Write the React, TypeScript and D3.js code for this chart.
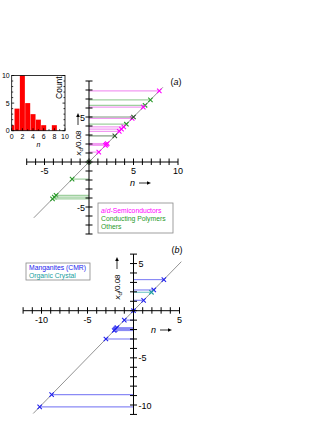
import React from 'react';
import * as d3 from 'd3';

// histogram inset: counts per n
const histN = [0, 1, 2, 3, 4, 5, 6, 7, 8];
const histCount = [1, 4, 10, 5, 3, 2, 1, 0, 1];

// panel (a) values (point sits at (v, v), line from y axis)
const semiVals = [7.9, 6.1, 4.85, 3.9, 3.65, 3.4, 2.05, 1.95, 1.85, 1.1];
const polyVals = [6.9, 6.3, 4.2, -1.9, -3.7, -3.9, -4.1];
const otherVals = [5.0, 2.9, 0];

// panel (b)
const mangVals = [3.3, 2.2, 1.1, 0, -1.0, -1.8, -1.9, -2.0, -2.1, -3.0, -8.9, -10.2];
const organicVals = [1.95];

const legendA = ['a/d-Semiconductors', 'Conducting Polymers', 'Others'];
const legendB = ['Manganites (CMR)', 'Organic Crystal'];

const FONT = '"Liberation Sans", Arial, sans-serif';

function Cross({ x, y, color }: { x: number; y: number; color: string }) {
  const s = 2.2;
  return (
    <path d={`M${x - s},${y - s}L${x + s},${y + s}M${x - s},${y + s}L${x + s},${y - s}`} stroke={color} strokeWidth={1.1} fill="none" />
  );
}

function Axes({ x, y, xr, yr, xLabels, yLabels, yLabelRight }: any) {
  const x0 = x(0), y0 = y(0);
  const xt = d3.range(xr[0], xr[1] + 1);
  const yt = d3.range(yr[0], yr[1] + 1);
  return (
    <g stroke="#000" strokeWidth={1}>
      <line x1={x(xr[0])} x2={x(xr[1])} y1={y0} y2={y0} />
      <line x1={x0} x2={x0} y1={y(yr[0])} y2={y(yr[1])} />
      {xt.map(t => <line key={'x' + t} x1={x(t)} x2={x(t)} y1={y0 - 3.5} y2={y0 + 3} />)}
      {yt.map(t => <line key={'y' + t} x1={x0 - 3.5} x2={x0 + 3.5} y1={y(t)} y2={y(t)} />)}
      <g stroke="none" fill="#000" fontSize={9} fontFamily={FONT}>
        {xLabels.map((t: number) => <text key={'xl' + t} x={x(t)} y={y0 + 12} textAnchor="middle">{t}</text>)}
        {yLabels.map((t: number) => (
          <text key={'yl' + t} x={yLabelRight ? x0 + 5 : x0 - 4} y={y(t) + 3.5} textAnchor={yLabelRight ? 'start' : 'end'}>{t}</text>
        ))}
      </g>
    </g>
  );
}

function YLabel({ cx, cy }: { cx: number; cy: number }) {
  return (
    <g transform={`translate(${cx},${cy}) rotate(-90)`} fontFamily={FONT} fontSize={8}>
      <text x={0} y={3} textAnchor="middle">
        <tspan fontStyle="italic">x</tspan>
        <tspan fontSize={6} dy={2}>d</tspan>
        <tspan dy={-2}>/0.08</tspan>
      </text>
      <line x1={18} x2={27} y1={0} y2={0} stroke="#000" strokeWidth={0.8} />
      <path d="M30,0L26,-1.8L26,1.8Z" fill="#000" />
    </g>
  );
}

function NLabel({ x, y }: { x: number; y: number }) {
  return (
    <g fontFamily={FONT} fontSize={9}>
      <text x={x} y={y} fontStyle="italic">n</text>
      <line x1={x + 9} x2={x + 18} y1={y - 3} y2={y - 3} stroke="#000" strokeWidth={0.8} />
      <path d={`M${x + 21},${y - 3}L${x + 17},${y - 4.8}L${x + 17},${y - 1.2}Z`} fill="#000" />
    </g>
  );
}

export default function App() {
  // panel (a)
  const xA = d3.scaleLinear().domain([0, 10]).range([89, 178]);
  const yA = d3.scaleLinear().domain([0, 5]).range([162, 117]);
  // panel (b)
  const xB = d3.scaleLinear().domain([0, 5]).range([133.5, 179.5]);
  const yB = d3.scaleLinear().domain([0, -10]).range([310.7, 405]);
  // histogram inset
  const xH = d3.scaleLinear().domain([0, 10]).range([11.7, 65]);
  const yH = d3.scaleLinear().domain([0, 10]).range([130.7, 75.5]);

  const semiC = '#ff00ff', semiL = '#f29af2';
  const polyC = '#2a9a2a', polyL = '#9fd09f';
  const othC = '#2f5a2f', othL = '#7f9a7f';
  const mangC = '#2222ee', mangL = '#8a8af5';
  const orgC = '#20a0a0', orgL = '#80cccc';

  const hLines = (vals: number[], x: any, y: any, line: string, mark: string, k: string) =>
    vals.map((v, i) => (
      <g key={k + i}>
        <line x1={x(0)} x2={x(v)} y1={y(v)} y2={y(v)} stroke={line} strokeWidth={1.2} />
        <Cross x={x(v)} y={y(v)} color={mark} />
      </g>
    ));

  return (
    <svg width={327} height={423} style={{ position: 'absolute', left: 0, top: 0, background: '#fff' }}>
      {/* histogram inset */}
      <g>
        {histN.map((n, i) => histCount[i] > 0 && (
          <rect key={n} x={Math.max(xH(n - 0.47), xH(0))} width={xH(n + 0.47) - Math.max(xH(n - 0.47), xH(0))}
            y={yH(histCount[i])} height={yH(0) - yH(histCount[i])} fill="#ff0000" />
        ))}
        <rect x={xH(0)} y={yH(10)} width={xH(10) - xH(0)} height={yH(0) - yH(10)} fill="none" stroke="#000" strokeWidth={0.8} />
        {d3.range(0, 11, 1).map(t => (
          <g key={'ht' + t} stroke="#000" strokeWidth={0.8}>
            <line x1={xH(t)} x2={xH(t)} y1={yH(0)} y2={yH(0) - (t % 2 === 0 ? 2.5 : 1.5)} />
            <line x1={xH(0)} x2={xH(0) + (t % 5 === 0 ? 2.5 : 1.5)} y1={yH(t)} y2={yH(t)} />
            <line x1={xH(10)} x2={xH(10) - (t % 5 === 0 ? 2.5 : 1.5)} y1={yH(t)} y2={yH(t)} />
          </g>
        ))}
        <g fontFamily={FONT} fontSize={7}>
          {[0, 2, 4, 6, 8, 10].map(t => <text key={'hx' + t} x={xH(t)} y={yH(0) + 8} textAnchor="middle">{t}</text>)}
          {[0, 5, 10].map(t => <text key={'hy' + t} x={xH(0) - 2} y={yH(t) + 2.5} textAnchor="end">{t}</text>)}
          <text x={xH(5)} y={yH(0) + 16} textAnchor="middle" fontStyle="italic">n</text>
        </g>
        <text transform={`translate(${xH(9.4)},${yH(7.8)}) rotate(-90)`} fontFamily={FONT} fontSize={8.5} textAnchor="middle">Count</text>
      </g>

      {/* panel (a) */}
      <line x1={xA(-6.2)} y1={yA(-6.2)} x2={xA(8.3)} y2={yA(8.3)} stroke="#777" strokeWidth={0.8} />
      {hLines(polyVals, xA, yA, polyL, polyC, 'p')}
      {hLines(semiVals, xA, yA, semiL, semiC, 's')}
      {hLines(otherVals, xA, yA, othL, othC, 'o')}
      <Axes x={xA} y={yA} xr={[-7, 10]} yr={[-8, 9]} xLabels={[-5, 5, 10]} yLabels={[5, -5]} />
      <YLabel cx={78} cy={143} />
      <NLabel x={130} y={186} />
      <text x={176} y={85} fontFamily={FONT} fontSize={9} textAnchor="middle">(<tspan fontStyle="italic">a</tspan>)</text>
      <rect x={98} y={203} width={75} height={30} fill="#fff" stroke="#888" strokeWidth={0.8} />
      <g fontFamily={FONT} fontSize={6.8}>
        <text x={101} y={213} fill={semiC}><tspan fontStyle="italic">a</tspan>/<tspan fontStyle="italic">d</tspan>{legendA[0].slice(3)}</text>
        <text x={101} y={221} fill={polyC}>{legendA[1]}</text>
        <text x={101} y={229} fill={polyC}>{legendA[2]}</text>
      </g>

      {/* panel (b) */}
      <line x1={xB(-10.9)} y1={yB(-10.9)} x2={xB(5.2)} y2={yB(5.2)} stroke="#777" strokeWidth={0.8} />
      {hLines(mangVals, xB, yB, mangL, mangC, 'm')}
      {hLines(organicVals, xB, yB, orgL, orgC, 'c')}
      <Axes x={xB} y={yB} xr={[-12, 5]} yr={[-11, 6]} xLabels={[-10, -5, 5]} yLabels={[5, -5, -10]} yLabelRight />
      <YLabel cx={117} cy={287} />
      <NLabel x={151} y={333} />
      <text x={177} y={253} fontFamily={FONT} fontSize={9} textAnchor="middle">(<tspan fontStyle="italic">b</tspan>)</text>
      <rect x={26} y={263} width={64} height={17} fill="#fff" stroke="#888" strokeWidth={0.8} />
      <g fontFamily={FONT} fontSize={6.8}>
        <text x={29} y={270} fill={mangC}>{legendB[0]}</text>
        <text x={29} y={278} fill={orgC}>{legendB[1]}</text>
      </g>
    </svg>
  );
}
